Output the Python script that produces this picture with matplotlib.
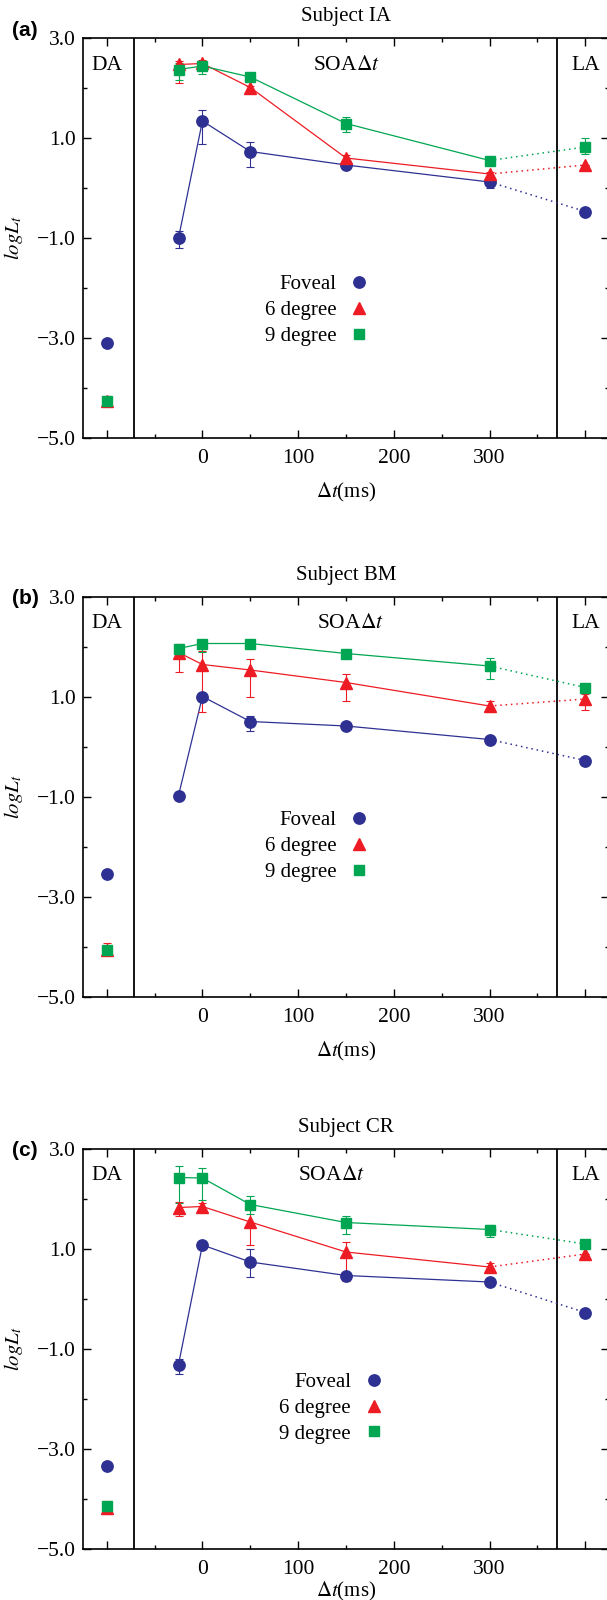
import matplotlib
matplotlib.use("Agg")
import matplotlib.pyplot as plt
from matplotlib.lines import Line2D
from matplotlib.ticker import FixedLocator, FuncFormatter

plt.rcParams["font.family"] = ["Liberation Serif", "DejaVu Serif"]
plt.rcParams["mathtext.fontset"] = "stix"

# Conditions: dark adapted (DA), SOA delays, light adapted (LA)
x_pos = [-100, -25, 0, 50, 150, 300, 400]
x_tick_labels = ["", "0", "100", "200", "300", ""]
series_names = ["Foveal", "6 degree", "9 degree"]
subjects = ["Subject IA", "Subject BM", "Subject CR"]
panel_tags = ["(a)", "(b)", "(c)"]

# log threshold values ordered as [DA, -25, 0, 50, 150, 300, LA]
ia_foveal = [-3.10, -1.00, 1.34, 0.73, 0.46, 0.12, -0.47]
ia_foveal_lo = [0, 0.20, 0.45, 0.30, 0.04, 0.12, 0]
ia_foveal_hi = [0, 0.15, 0.23, 0.19, 0.04, 0.10, 0]
ia_deg6 = [-4.25, 2.47, 2.49, 2.01, 0.60, 0.28, 0.46]
ia_deg6_lo = [0.10, 0.38, 0.06, 0.04, 0.07, 0.05, 0]
ia_deg6_hi = [0.10, 0.06, 0.06, 0.04, 0.07, 0.05, 0]
ia_deg9 = [-4.25, 2.37, 2.44, 2.22, 1.29, 0.55, 0.82]
ia_deg9_lo = [0.05, 0.20, 0.16, 0.04, 0.17, 0.04, 0.13]
ia_deg9_hi = [0.05, 0.12, 0.10, 0.04, 0.13, 0.04, 0.19]

bm_foveal = [-2.54, -0.98, 1.00, 0.50, 0.41, 0.14, -0.28]
bm_foveal_lo = [0, 0.05, 0.04, 0.19, 0.03, 0.05, 0]
bm_foveal_hi = [0, 0.05, 0.04, 0.11, 0.03, 0.05, 0]
bm_deg6 = [-4.07, 1.88, 1.64, 1.53, 1.28, 0.81, 0.95]
bm_deg6_lo = [0.05, 0.38, 0.95, 0.53, 0.37, 0.12, 0.22]
bm_deg6_hi = [0.15, 0.17, 0.28, 0.22, 0.18, 0.10, 0.11]
bm_deg9 = [-4.07, 1.96, 2.06, 2.06, 1.86, 1.61, 1.18]
bm_deg9_lo = [0.03, 0.04, 0.16, 0.05, 0.05, 0.26, 0]
bm_deg9_hi = [0.03, 0.04, 0.03, 0.05, 0.05, 0.16, 0]

cr_foveal = [-3.35, -1.32, 1.07, 0.73, 0.46, 0.33, -0.28]
cr_foveal_lo = [0, 0.18, 0.03, 0.29, 0.04, 0.04, 0]
cr_foveal_hi = [0, 0.12, 0.03, 0.27, 0.04, 0.04, 0]
cr_deg6 = [-4.18, 1.82, 1.84, 1.53, 0.93, 0.63, 0.89]
cr_deg6_lo = [0.13, 0.17, 0.07, 0.45, 0.57, 0.08, 0]
cr_deg6_hi = [0.13, 0.11, 0.07, 0.37, 0.20, 0.08, 0]
cr_deg9 = [-4.15, 2.42, 2.41, 1.88, 1.52, 1.38, 1.09]
cr_deg9_lo = [0.05, 0.50, 0.43, 0.18, 0.23, 0.14, 0]
cr_deg9_hi = [0.05, 0.24, 0.21, 0.17, 0.14, 0.10, 0]

panels = [
    [(ia_foveal, ia_foveal_lo, ia_foveal_hi), (ia_deg6, ia_deg6_lo, ia_deg6_hi), (ia_deg9, ia_deg9_lo, ia_deg9_hi)],
    [(bm_foveal, bm_foveal_lo, bm_foveal_hi), (bm_deg6, bm_deg6_lo, bm_deg6_hi), (bm_deg9, bm_deg9_lo, bm_deg9_hi)],
    [(cr_foveal, cr_foveal_lo, cr_foveal_hi), (cr_deg6, cr_deg6_lo, cr_deg6_hi), (cr_deg9, cr_deg9_lo, cr_deg9_hi)],
]

colors = ["#2e3192", "#ed1c24", "#00a651"]
markers = ["o", "^", "s"]
msizes = [8.2, 9.0, 7.2]

W, H = 607, 1600
fig = plt.figure(figsize=(W / 100, H / 100), dpi=100)

ax_left, ax_right = 82.8, 609.2
ax_tops = [38, 596.5, 1148.5]
ax_h = 400
soa_x = [150, 155, 135]
legend_anchor = [(0.545, 0.319), (0.545, 0.375), (0.573, 0.351)]
xlabel_y = [-0.108, -0.108, -0.078]
tag_pos = [(25, 30), (25, 598), (25, 1151)]

fmt = FuncFormatter(lambda v, p: f"{v:.1f}".replace("-", "\u2212"))

for k in range(3):
    top = ax_tops[k]
    ax = fig.add_axes([ax_left / W, 1 - (top + ax_h) / H, (ax_right - ax_left) / W, ax_h / H])
    ax.set_xlim(-125, 425)
    ax.set_ylim(-5, 3)

    for (vals, lo, hi), c, m, ms in zip(panels[k], colors, markers, msizes):
        # solid line across the SOA delays
        ax.plot(x_pos[1:6], vals[1:6], color=c, lw=0.9, zorder=2)
        # dotted link from the longest delay to light adapted
        ax.plot(x_pos[5:7], vals[5:7], color=c, lw=1.1, ls=(0, (1, 2.5)), zorder=2)
        ax.errorbar(x_pos, vals, yerr=[lo, hi], fmt="none", ecolor=c,
                    elinewidth=0.8, capsize=3, capthick=0.8, zorder=3)
        ax.plot(x_pos, vals, ls="none", marker=m, ms=ms, color=c, mec=c, zorder=4)

    ax.axvline(-72, color="black", lw=1.3, zorder=1)
    ax.axvline(370, color="black", lw=1.3, zorder=1)

    ax.text(-100, 2.45, "DA", ha="center", va="center", fontsize=15.5)
    ax.text(400, 2.45, "LA", ha="center", va="center", fontsize=15.5)
    ax.text(soa_x[k], 2.45, r"SOA$\Delta t$", ha="center", va="center", fontsize=15.5)

    ax.xaxis.set_major_locator(FixedLocator([-100, 0, 100, 200, 300, 400]))
    ax.set_xticklabels(x_tick_labels)
    ax.xaxis.set_minor_locator(FixedLocator([-50, 50, 150, 250, 350]))
    ax.yaxis.set_major_locator(FixedLocator([3, 1, -1, -3, -5]))
    ax.yaxis.set_minor_locator(FixedLocator([2, 0, -2, -4]))
    ax.yaxis.set_major_formatter(fmt)
    ax.tick_params(which="both", direction="in", top=True, right=True, width=1.0)
    ax.tick_params(which="major", length=6, labelsize=15.5)
    ax.tick_params(axis="x", which="major", pad=8)
    ax.tick_params(axis="y", which="major", pad=5)
    ax.tick_params(which="minor", length=3)
    for s in ax.spines.values():
        s.set_linewidth(1.2)

    ax.set_xlabel(r"$\Delta t$(ms)", fontsize=15)
    ax.xaxis.set_label_coords(0.5, xlabel_y[k])
    ax.set_ylabel(r"$logL_t$", fontsize=15)
    ax.yaxis.set_label_coords(-0.110, 0.5)

    ax.text(0.5, 1 + 21 / ax_h, subjects[k], transform=ax.transAxes,
            ha="center", va="center", fontsize=15)
    tx, ty = tag_pos[k]
    fig.text(tx / W, 1 - ty / H, panel_tags[k], ha="center", va="center",
             fontsize=15, fontweight="bold", family=["Liberation Sans", "DejaVu Sans"])

    handles = [Line2D([], [], ls="none", marker=m, ms=ms, color=c)
               for c, m, ms in zip(colors, markers, msizes)]
    ax.legend(handles, series_names, loc="center right", bbox_to_anchor=legend_anchor[k],
              markerfirst=False, frameon=False, fontsize=15, handlelength=1.0,
              handletextpad=0.6, labelspacing=0.3, borderpad=0, borderaxespad=0)

fig.savefig("out.png", dpi=100)
